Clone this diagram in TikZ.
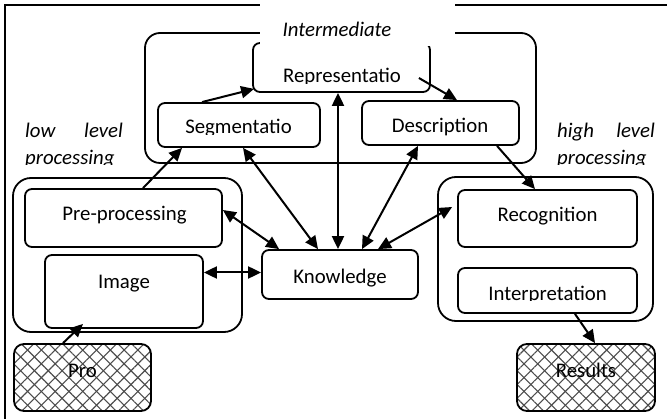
\documentclass[tikz,border=0pt]{standalone}
\usepackage{fontspec}
\setmainfont{Carlito}
\usetikzlibrary{arrows.meta,patterns.meta}

\begin{document}
\begin{tikzpicture}[x=1pt,y=-1pt,
  box/.style={draw,line width=1.8pt,rounded corners=7pt,inner sep=0pt},
  group/.style={draw,line width=1.8pt,rounded corners=18pt,inner sep=0pt},
  hatchbox/.style={box,rounded corners=10pt,
    preaction={pattern={Lines[angle=45,distance=9.75pt,line width=1.1pt]},pattern color=black!70},
    preaction={pattern={Lines[angle=-45,distance=9.75pt,line width=1.1pt]},pattern color=black!70}},
  lbl/.style={inner sep=0pt,anchor=base,font=\fontsize{20.8}{25}\selectfont},
  ilbl/.style={lbl,font=\fontsize{20.8}{25}\selectfont\itshape},
  tip/.style={Triangle[length=13pt,width=12pt]},
  link/.style={line width=2pt,-{Triangle[length=13pt,width=12pt]}},
  both/.style={line width=2pt,{Triangle[length=13pt,width=12pt]}-{Triangle[length=13pt,width=12pt]}}
]
\useasboundingbox (0,0) rectangle (667,419);

% frame
\draw[line width=1.8pt] (5,419) -- (5,5) -- (667,5);

% groups
\node[group,rounded corners=15pt,minimum width=391pt,minimum height=130pt] (inter) at (340.5,98) {};
\node[group,minimum width=229pt,minimum height=154pt] (low) at (127.5,255) {};
\node[group,minimum width=215pt,minimum height=144pt] (high) at (545.5,249) {};

% boxes
\node[box,minimum width=177pt,minimum height=49pt] (rep) at (341.5,67.5) {};
\node[box,minimum width=162pt,minimum height=44pt] (seg) at (239,125) {};
\node[box,minimum width=157pt,minimum height=44pt] (desc) at (440.5,123) {};
\node[box,minimum width=197pt,minimum height=58pt] (pre) at (123.5,218) {};
\node[box,minimum width=158pt,minimum height=73pt] (img) at (124,291.5) {};
\node[box,minimum width=156pt,minimum height=49pt] (know) at (340,274.5) {};
\node[box,minimum width=179pt,minimum height=57pt] (recog) at (547.5,218.5) {};
\node[box,minimum width=179pt,minimum height=45pt] (interp) at (547.5,290.5) {};
\node[hatchbox,minimum width=137pt,minimum height=67pt] (pro) at (82.5,377.5) {};
\node[hatchbox,minimum width=138pt,minimum height=67pt] (res) at (586,377.5) {};

% title background
\fill[white] (260,0) rectangle (455,46);

% texts
\node[ilbl] (tinter) at (337,37) {Intermediate};
\node[ilbl,anchor=base west] (tlow) at (25,138) {low};
\node[ilbl,anchor=base east] (tlevA) at (123,138) {level};
\node[ilbl,anchor=base west] (thigh) at (557,138) {high};
\node[ilbl,anchor=base east] (tlevB) at (655,138) {level};
\begin{scope}
  \clip (20,145) rectangle (130,165);
  \node[ilbl,anchor=base west] (tprocA) at (25,165) {processing};
\end{scope}
\begin{scope}
  \clip (550,145) rectangle (660,165);
  \node[ilbl,anchor=base west] (tprocB) at (557,165) {processing};
\end{scope}
\begin{scope}
  \clip (256,46) rectangle (428,83.5);
  \node[lbl] (trep) at (342,83) {Representatio};
\end{scope}
\begin{scope}
  \clip (160,105) rectangle (318,134.5);
  \node[lbl] (tseg) at (238.5,134) {Segmentatio};
\end{scope}
\begin{scope}
  \clip (460,270) rectangle (635,301);
  \node[lbl] (tinterp) at (547.5,300.5) {Interpretation};
\end{scope}
\node[lbl] (tdesc) at (440,133) {Description};
\node[lbl] (tpre) at (124.5,221) {Pre-processing};
\node[lbl] (timg) at (124,289) {Image};
\node[lbl] (tknow) at (340,283.5) {Knowledge};
\node[lbl] (trecog) at (547.5,221.5) {Recognition};
\node[lbl] (tpro) at (82.5,378) {Pro};
\node[lbl] (tres) at (586,378) {Results};

% connectors
\draw[link] ([xshift=-37pt]seg.north) -- ([xshift=2pt,yshift=4pt]rep.south west);
\draw[link] ([xshift=-12pt,yshift=-10.5pt]rep.east) -- ([xshift=16.5pt]desc.north);
\draw[both] ([xshift=-2pt]know.north) -- ([xshift=-2pt]know.north |- rep.south);
\draw[link] ([xshift=19.5pt]pre.north) -- ([xshift=-57pt]seg.south);
\draw[both] ([xshift=4pt]seg.south) -- ([xshift=-22pt]know.north);
\draw[both] ([xshift=-22.5pt]desc.south) -- ([xshift=22pt]know.north);
\draw[link] ([xshift=56.5pt]desc.south) -- ([xshift=-12.5pt]recog.north);
\draw[both] ([yshift=8pt]pre.east) -- ([xshift=18pt]know.north west);
\draw[both] ([yshift=2pt]know.west -| img.east) -- ([yshift=2pt]know.west);
\draw[both] ([xshift=38pt]know.north) -- ([xshift=-5pt,yshift=11.5pt]recog.west);
\draw[link] ([xshift=-19.5pt]pro.north) -- ([xshift=-41pt,yshift=5pt]img.south);
\draw[link] ([xshift=27.5pt]interp.south) -- ([xshift=9pt]res.north);
\end{tikzpicture}
\end{document}
